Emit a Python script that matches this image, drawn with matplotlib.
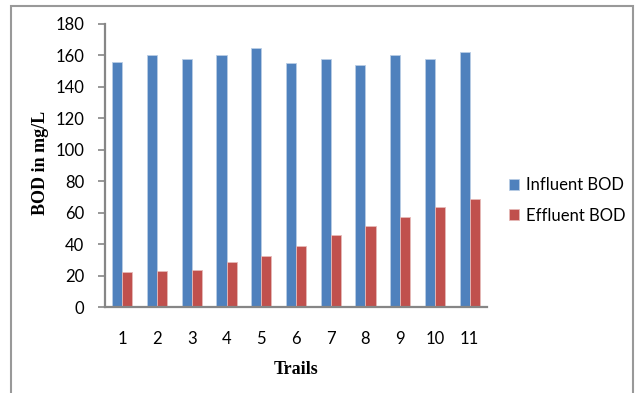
import matplotlib
matplotlib.use("Agg")
import matplotlib.pyplot as plt
from matplotlib.patches import Rectangle
import numpy as np

trails = ["1", "2", "3", "4", "5", "6", "7", "8", "9", "10", "11"]
influent = [156, 160, 158, 160, 165, 155, 158, 154, 160, 158, 162]
effluent = [22, 23, 23.5, 28.5, 32.5, 38.5, 45.5, 51.5, 57.5, 63.5, 68.5]
yticks = [0, 20, 40, 60, 80, 100, 120, 140, 160, 180]

W, H = 636, 393
fig = plt.figure(figsize=(W / 100, H / 100), dpi=100)
fig.patch.set_facecolor("white")

ax = fig.add_axes([105 / W, 1 - 307 / H, (487 - 105) / W, (307 - 24) / H])
x = np.arange(1, len(trails) + 1)
bw = 0.29
ax.bar(x - bw / 2, influent, width=bw, color="#4F81BD", edgecolor="#B9CDE5",
       linewidth=0.6, label="Influent BOD")
ax.bar(x + bw / 2, effluent, width=bw, color="#C0504D", edgecolor="#E6B9B8",
       linewidth=0.6, label="Effluent BOD")

ax.set_xlim(0.5, len(trails) + 0.5)
ax.set_ylim(0, 180)
ax.set_yticks(yticks)
ax.set_xticks(x)
ax.set_xticklabels(trails)

for s in ["top", "right"]:
    ax.spines[s].set_visible(False)
for s in ["left", "bottom"]:
    ax.spines[s].set_color("#868686")
    ax.spines[s].set_linewidth(1.6)

ax.tick_params(axis="y", direction="out", length=5, width=1.2, color="#868686",
               labelsize=12, pad=10)
ax.tick_params(axis="x", length=0, labelsize=12, pad=17)
for lab in ax.get_xticklabels() + ax.get_yticklabels():
    lab.set_fontfamily("Lato")

ax.set_ylabel("BOD in mg/L", fontfamily="Liberation Serif", fontweight="bold",
              fontsize=13)
ax.yaxis.set_label_coords(40.5 / W, 1 - 163 / H, transform=fig.transFigure)
ax.set_xlabel("Trails", fontfamily="Liberation Serif", fontweight="bold",
              fontsize=13)
ax.xaxis.set_label_coords(296 / W, 1 - 370 / H, transform=fig.transFigure)
ax.xaxis.label.set_va("center")
ax.yaxis.label.set_va("center")

leg = ax.legend(loc="center left", bbox_to_anchor=(509 / W, 1 - 200.5 / H),
                bbox_transform=fig.transFigure, frameon=False,
                prop={"family": "Lato", "size": 12}, handlelength=0.6,
                handleheight=0.6, handletextpad=0.4, labelspacing=0.85,
                borderpad=0.0, borderaxespad=0.0)

fig.patches.append(Rectangle((11 / W, -0.05), (633 - 11) / W, 1.05 - 6 / H,
                             transform=fig.transFigure, fill=False,
                             edgecolor="#999999", linewidth=1.5))

fig.savefig("out.png", dpi=100, facecolor="white")
